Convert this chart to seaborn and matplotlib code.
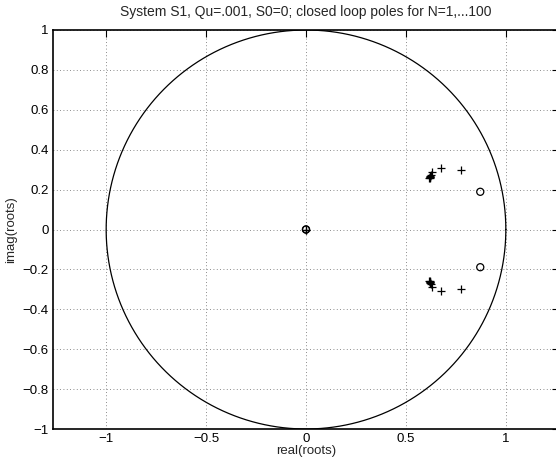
import numpy as np
import pandas as pd
import matplotlib
matplotlib.use("Agg")
import matplotlib.pyplot as plt
import seaborn as sns

# Data
pole_re = [0.0, 0.775, 0.675, 0.630, 0.623, 0.620, 0.619, 0.618, 0.618, 0.617]
pole_im = [0.0, 0.300, 0.310, 0.287, 0.272, 0.266, 0.263, 0.261, 0.260, 0.258]
zero_re = [0.0, 0.872]
zero_im = [0.0, 0.189]
xticks = [-1, -0.5, 0, 0.5, 1]
yticks = [-1, -0.8, -0.6, -0.4, -0.2, 0, 0.2, 0.4, 0.6, 0.8, 1]
title = "System S1, Qu=.001, S0=0; closed loop poles for N=1,...100"

sns.set_style("white")
plt.rcParams['font.family'] = ['Liberation Sans', 'DejaVu Sans']
FS = 10

fig = plt.figure(figsize=(5.56, 4.63), dpi=100)
ax = fig.add_axes([53/556, 34/463, 506/556, 399/463])

poles = pd.DataFrame({"re": pole_re + pole_re, "im": pole_im + [-v for v in pole_im]})
zeros = pd.DataFrame({"re": zero_re + zero_re, "im": zero_im + [-v for v in zero_im]})

th = np.linspace(0, 2*np.pi, 400)
circ = pd.DataFrame({"x": np.cos(th), "y": np.sin(th)})
sns.lineplot(data=circ, x="x", y="y", sort=False, estimator=None, errorbar=None,
             color="black", linewidth=0.9, ax=ax)

sns.scatterplot(data=poles, x="re", y="im", marker="+", color="black", s=40,
                linewidth=0.9, ax=ax)
sns.scatterplot(data=zeros, x="re", y="im", marker="o", facecolor="none",
                edgecolor="black", s=26, linewidth=0.9, ax=ax)

ax.set_xlim(-1.266, 1.266)
ax.set_ylim(-1, 1)
ax.set_xticks(xticks)
ax.set_xticklabels(["\u22121", "\u22120.5", "0", "0.5", "1"])
ax.set_yticks(yticks)
ax.set_yticklabels([("\u2212" + f"{abs(v):g}") if v < 0 else f"{v:g}" for v in yticks])
ax.grid(True, linestyle=(0, (1, 3)), color="black", linewidth=0.6, alpha=0.6)
ax.tick_params(direction="in", length=5, width=0.8, top=True, right=True,
               labelsize=9.5, pad=3, colors="black")
for s in ax.spines.values():
    s.set_linewidth(1.2)
    s.set_color("black")
ax.set_xlabel("real(roots)", fontsize=9.5, labelpad=0)
ax.set_ylabel("imag(roots)", fontsize=9.5, labelpad=4)
ax.set_title(title, fontsize=FS, pad=10)

fig.savefig("out.png", dpi=100)
